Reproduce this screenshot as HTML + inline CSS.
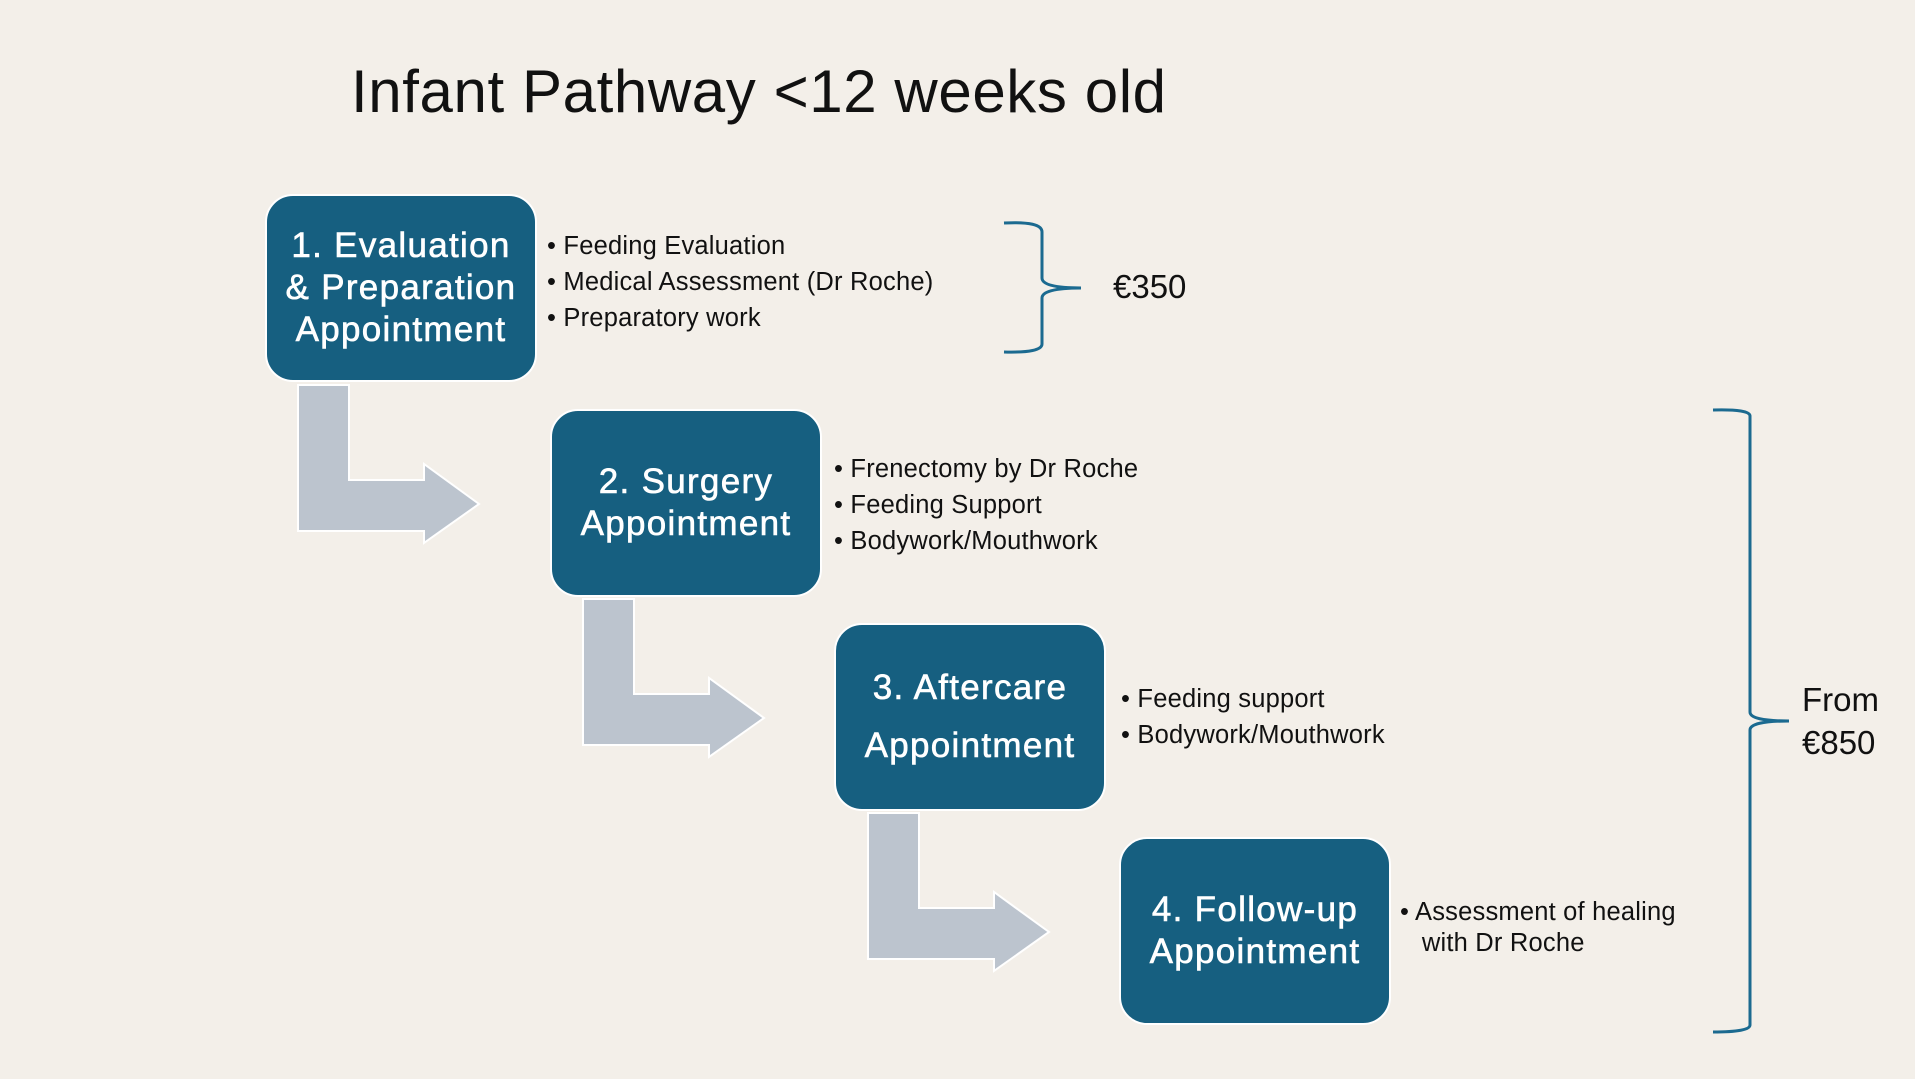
<!DOCTYPE html>
<html><head><meta charset="utf-8"><style>
html,body{margin:0;padding:0;background:#f3efe9;}
body{width:1915px;height:1079px;position:relative;overflow:hidden;font-family:"Liberation Sans",sans-serif;}
.t{position:absolute;white-space:nowrap;color:#111;}
.box{position:absolute;width:268px;height:184px;background:#165f80;border:2px solid #fff;border-radius:28px;color:#fff;font-size:35px;letter-spacing:1.3px;line-height:42px;text-align:center;display:flex;align-items:center;justify-content:center;-webkit-text-stroke:0.6px #fff;}
.b{position:absolute;font-size:25.5px;line-height:36px;color:#111;white-space:nowrap;letter-spacing:0.2px;}
</style></head><body>
<svg width="1915" height="1079" style="position:absolute;left:0;top:0">
<g fill="#bcc4ce" stroke="#fff" stroke-width="2">
<path d="M298 385 H349 V480 H424 V464 L479 504 L424 543 V531 H298 Z"/>
<path d="M583 599 H634 V694 H709 V678 L764 718 L709 757 V745 H583 Z"/>
<path d="M868 813 H919 V908 H994 V892 L1049 932 L994 971 V959 H868 Z"/>
</g>
<g fill="none" stroke="#1b6a90" stroke-width="3">
<path d="M1004 223 Q1042 221 1042 232 V278 Q1042 288 1081 288 Q1042 288 1042 298 V344 Q1042 353 1004 352"/>
<path d="M1713 410 Q1750 409 1750 416 V712 Q1750 721 1789 721 Q1750 721 1750 730 V1025 Q1750 1032 1713 1032"/>
</g>
</svg>
<div class="t" style="left:351px;top:58px;font-size:60px;letter-spacing:0.6px;line-height:68px;">Infant Pathway &lt;12 weeks old</div>

<div class="box" style="left:265px;top:194px;">1. Evaluation<br>&amp; Preparation<br>Appointment</div>
<div class="box" style="left:550px;top:409px;">2. Surgery<br>Appointment</div>
<div class="box" style="left:834px;top:623px;line-height:58px;">3. Aftercare<br>Appointment</div>
<div class="box" style="left:1119px;top:837px;">4. Follow-up<br>Appointment</div>

<div class="b" style="left:547px;top:228px;">• Feeding Evaluation<br>• Medical Assessment (Dr Roche)<br>• Preparatory work</div>
<div class="b" style="left:834px;top:451px;">• Frenectomy by Dr Roche<br>• Feeding Support<br>• Bodywork/Mouthwork</div>
<div class="b" style="left:1121px;top:681px;">• Feeding support<br>• Bodywork/Mouthwork</div>
<div class="b" style="left:1400px;top:897px;line-height:31px;">• Assessment of healing<br>&nbsp;&nbsp;&nbsp;with Dr Roche</div>

<div class="t" style="left:1113px;top:268px;font-size:33px;line-height:38px;">€350</div>
<div class="t" style="left:1802px;top:678px;font-size:33px;line-height:43px;">From<br>€850</div>
</body></html>
